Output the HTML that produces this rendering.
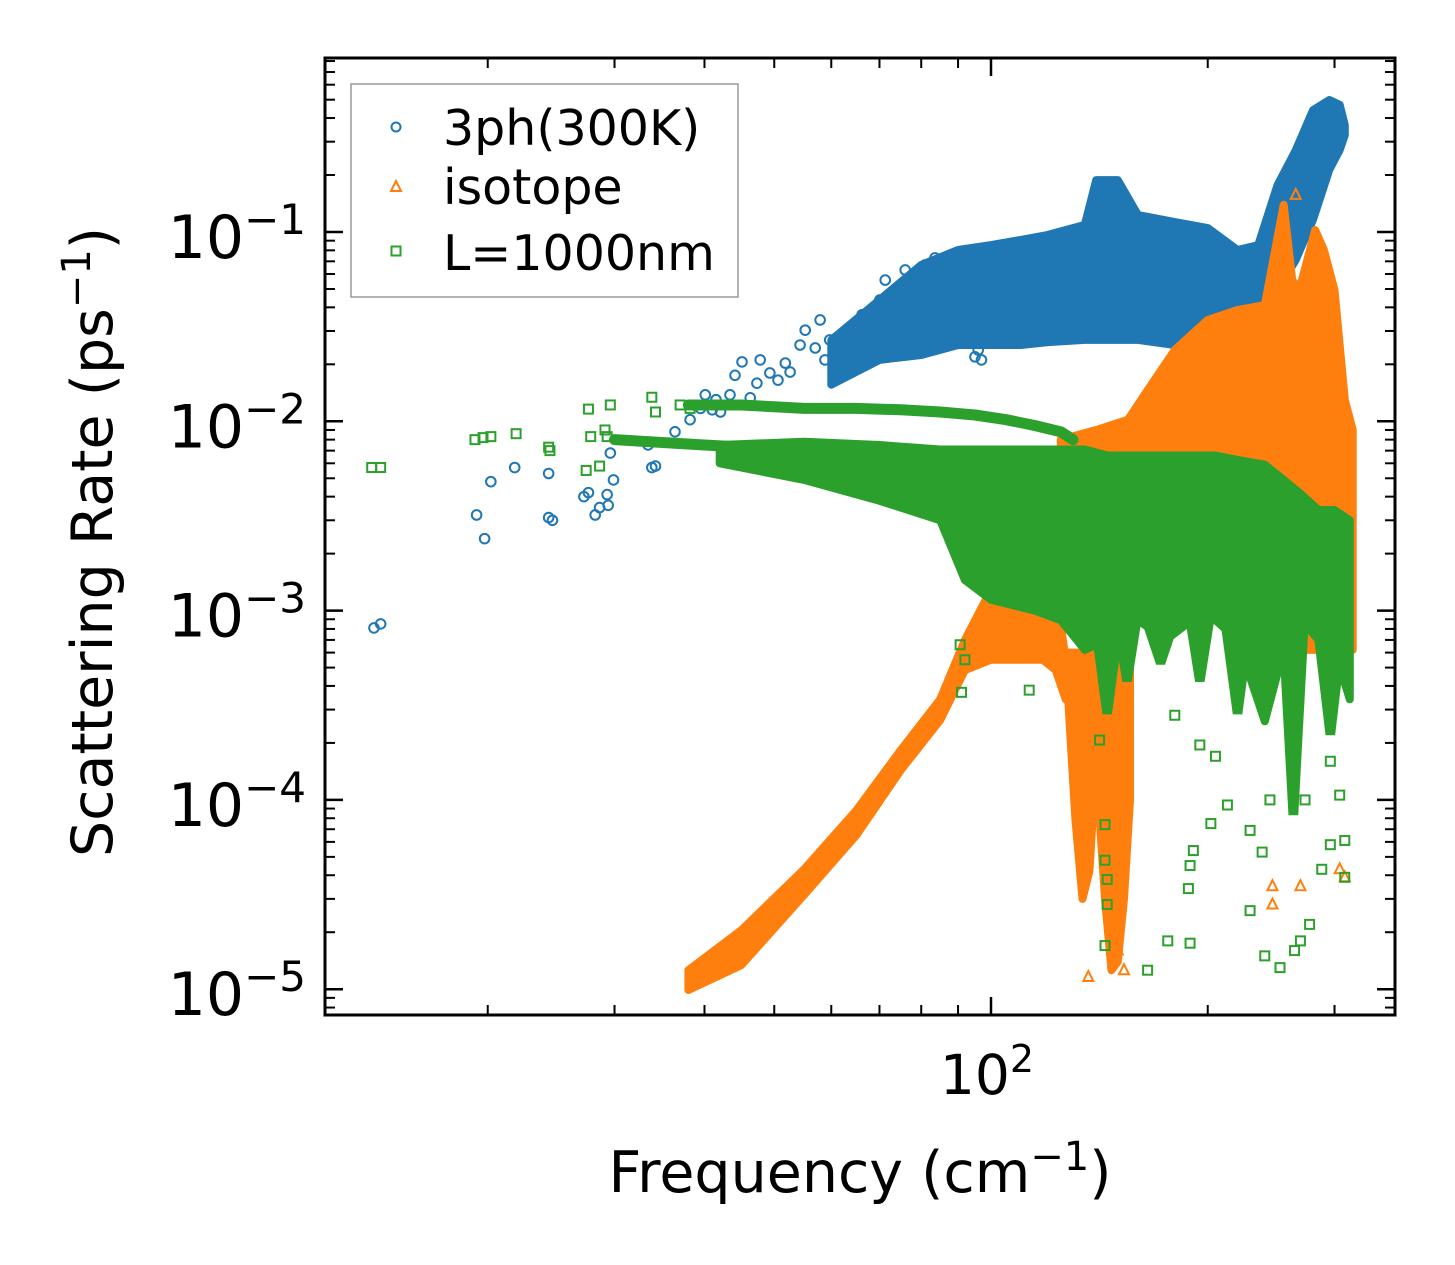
<!DOCTYPE html>
<html><head><meta charset="utf-8">
<style>
html,body{margin:0;padding:0;background:#fff;}
svg{display:block;font-family:"DejaVu Sans","Liberation Sans",sans-serif;}
</style></head>
<body>
<svg id="chart" width="1455" height="1265" viewBox="0 0 1455 1265" xmlns="http://www.w3.org/2000/svg">
<rect width="1455" height="1265" fill="#fff"/>
<g id="marks"></g>
<g id="axes"></g>
<text x="860" y="1192" font-size="57" text-anchor="middle">Frequency (cm<tspan dy="-22" font-size="40">−1</tspan><tspan dy="22">)</tspan></text>
<text transform="translate(112,542) rotate(-90)" font-size="57" text-anchor="middle">Scattering Rate (ps<tspan dy="-22" font-size="40">−1</tspan><tspan dy="22">)</tspan></text>
<g>
<rect x="351" y="84" width="387" height="213" fill="#fff" stroke="#999" stroke-width="1.5"/>
<circle cx="396" cy="127" r="4.5" fill="none" stroke="#1f77b4" stroke-width="2"/>
<text x="443" y="145" font-size="49">3ph(300K)</text>
<polygon points="396,181 391,191 401,191" fill="none" stroke="#ff7f0e" stroke-width="2"/>
<text x="443" y="204" font-size="49">isotope</text>
<rect x="391.5" y="246.5" width="9" height="9" fill="none" stroke="#2ca02c" stroke-width="2"/>
<text x="443" y="270" font-size="49">L=1000nm</text>
</g>
</svg>
<script>
// ---- data (frequency in cm^-1, rate in ps^-1) ----
const blueBandF  = [60,70,80,90,100,110,120,135,140,150,160,180,200,220,235,250,265,280,295,305,310];
const blueBandHi = [0.0269,0.0438,0.067,0.0803,0.0853,0.0908,0.0965,0.109,0.188,0.188,0.123,0.113,0.105,0.0803,0.0853,0.177,0.27,0.44,0.498,0.469,0.367];
const blueBandLo = [0.0156,0.0211,0.0224,0.0253,0.0253,0.0253,0.0262,0.0269,0.0269,0.0269,0.0269,0.0253,0.0253,0.0303,0.0343,0.0494,0.0711,0.116,0.213,0.271,0.325];
const bluePtsF = [13.9,14.2,19.3,19.8,20.2,21.8,24.3,24.3,24.6,27.2,27.6,28.2,28.6,29.4,29.3,29.6,29.9,33.4,34.2,33.8,36.4,38.2,39.5,40.1,41,41.5,42.1,43.4,44.1,45.1,46.3,47.3,47.8,49.3,50.6,51.8,52.6,54.3,55.2,57,57.9,58.8,59.7,61.7,63.7,64.7,66.2,67.9,70.1,71.3,73.6,76,78.4,81,83.6,95,96,97];
const bluePtsV = [8.1e-4,8.5e-4,3.2e-3,2.4e-3,4.8e-3,5.7e-3,5.3e-3,3.1e-3,3.0e-3,4.0e-3,4.2e-3,3.2e-3,3.5e-3,3.6e-3,4.1e-3,6.8e-3,4.9e-3,7.5e-3,5.8e-3,5.7e-3,8.8e-3,0.0102,0.0117,0.0138,0.0115,0.013,0.0112,0.0138,0.0175,0.0206,0.0133,0.0159,0.0211,0.018,0.0165,0.0203,0.0182,0.0253,0.0303,0.0244,0.0343,0.0211,0.0269,0.0238,0.0303,0.0269,0.0365,0.0378,0.0438,0.0557,0.0448,0.063,0.0494,0.067,0.073,0.0219,0.0238,0.0211];

const orangeAF  = [38,45,55,65,75,85,92,100,110,118,123,127];
const orangeAHi = [1.26e-5,2.05e-5,4.3e-5,8.8e-5,1.84e-4,3.4e-4,7.0e-4,1.29e-3,1.74e-3,1.64e-3,1.29e-3,5.5e-4];
const orangeALo = [9.9e-6,1.34e-5,3.15e-5,6.5e-5,1.44e-4,2.64e-4,4.85e-4,5.5e-4,5.5e-4,5.5e-4,4.85e-4,3.4e-4];
const orangeSpikeAF  = [128,131,134,137,140];
const orangeSpikeAHi = [6e-4,6e-4,6e-4,6e-4,6e-4];
const orangeSpikeALo = [3.4e-4,7.9e-5,3.0e-5,4.2e-5,1.6e-4];
const orangeSpikeBF  = [141,144,147,150,153,156];
const orangeSpikeBHi = [1e-3,1e-3,1e-3,1e-3,1e-3,1e-3];
const orangeSpikeBLo = [1e-4,3.0e-5,1.26e-5,1.4e-5,3.0e-5,1e-4];
const orangeCF  = [125,140,155,165,180,200,220,240,255,262,268,275,282,290,300,310,318];
const orangeCHi = [8.0e-3,9.0e-3,0.0102,0.0146,0.0238,0.0343,0.0387,0.0411,0.139,0.0557,0.0494,0.0711,0.1025,0.0803,0.0494,0.013,9.0e-3];
const orangeCLo = [3.0e-3,3.0e-3,3.0e-3,3.0e-3,3.0e-3,3.0e-3,3.0e-3,1.14e-3,6.2e-4,6.2e-4,6.2e-4,6.2e-4,6.2e-4,6.2e-4,6.2e-4,6.2e-4,6.2e-4];
const orangePtsF = [265,246,246,269,305,310,136.5,153,150,269];
const orangePtsV = [0.157,3.5e-5,2.8e-5,3.5e-5,4.3e-5,3.9e-5,1.16e-5,1.26e-5,1.6e-5,4.3e-3];

const greenArc1F = [38,45,55,65,75,85,95,105,115,125,130];
const greenArc1V = [0.0122,0.0122,0.0117,0.0117,0.0115,0.0112,0.0108,0.0102,0.0095,0.0088,0.008];
const greenArc2F = [30,40,55,70,85,100];
const greenArc2V = [0.008,0.0075,0.007,0.0065,0.006,0.0057];
const greenBandF  = [42,55,70,85,92,100,115,125,135,145,160,175,190,205,220,240,255,270,285,300,315];
const greenBandHi = [7.5e-3,7.8e-3,7.5e-3,7.1e-3,7.1e-3,7.1e-3,7.1e-3,7.1e-3,7.1e-3,6.6e-3,6.6e-3,6.6e-3,6.6e-3,6.6e-3,6.25e-3,5.9e-3,4.9e-3,4.1e-3,3.4e-3,3.4e-3,3.0e-3];
const greenBandLo = [6.0e-3,4.9e-3,3.8e-3,3.0e-3,1.45e-3,1.14e-3,1.0e-3,8.9e-4,6.2e-4,7.0e-4,8.9e-4,7.0e-4,8.9e-4,8.9e-4,7.0e-4,2.6e-4,6.2e-4,8.9e-4,7.0e-4,6.2e-4,3.4e-4];
const greenSpikeF = [145,154.5,172,195,220,263,296];
const greenSpikeV = [2.9e-4,4.3e-4,5.3e-4,4.3e-4,2.9e-4,8.5e-5,2.25e-4];
const greenPtsF = [13.8,14.2,19.2,19.7,20.2,21.9,24.3,24.4,27.4,27.6,28.6,29.1,29.6,33.8,34.2,37,38.2,29.3,27.8,
  90.6,92,91,113,141.5,144,144,145,145,144,165,176,189,188,189,191,202,213,229,244,238,229,240,252,264,269,277,288,296,310,310,273,296,305,195,205,180];
const greenPtsV = [5.7e-3,5.7e-3,8.0e-3,8.2e-3,8.3e-3,8.6e-3,7.3e-3,7.0e-3,5.5e-3,0.0116,5.8e-3,9.0e-3,0.0122,0.0134,0.0112,0.0122,0.0117,8.3e-3,8.3e-3,
  6.6e-4,5.5e-4,3.7e-4,3.8e-4,2.07e-4,7.4e-5,4.8e-5,3.8e-5,2.8e-5,1.7e-5,1.26e-5,1.8e-5,1.75e-5,3.4e-5,4.5e-5,5.4e-5,7.5e-5,9.4e-5,6.9e-5,1e-4,5.3e-5,2.6e-5,1.5e-5,1.3e-5,1.6e-5,1.8e-5,2.2e-5,4.3e-5,5.8e-5,6.1e-5,3.9e-5,1e-4,1.6e-4,1.06e-4,1.95e-4,1.7e-4,2.8e-4];

const xMinorTicks = [20,30,40,50,60,70,80,90,200,300];
const xMajorTicks = [100];
const yMajorExp = [-5,-4,-3,-2,-1];

// ---- scales ----
const L=325,R=1395,T=58,B=1015;
function X(f){return 991+720*Math.log10(f/100);}
function Y(v){return 232-189.3*(Math.log10(v)+1);}
const NS="http://www.w3.org/2000/svg";
const marks=document.getElementById('marks');
const axes=document.getElementById('axes');
function mk(tag,attrs,parent){const e=document.createElementNS(NS,tag);for(const k in attrs)e.setAttribute(k,attrs[k]);parent.appendChild(e);return e;}

function band(F,Hi,Lo,color,name){
  let d='M'+F.map((f,i)=>X(f).toFixed(1)+','+Y(Hi[i]).toFixed(1)).join('L');
  for(let i=F.length-1;i>=0;i--) d+='L'+X(F[i]).toFixed(1)+','+Y(Lo[i]).toFixed(1);
  const p=mk('path',{d:d+'Z',fill:color,stroke:color,'stroke-width':8,'stroke-linejoin':'round'},marks);
  
  
}
function arc(F,V,color,name){
  const p=mk('polyline',{points:F.map((f,i)=>X(f).toFixed(1)+','+Y(V[i]).toFixed(1)).join(' '),fill:'none',stroke:color,'stroke-width':11,'stroke-linejoin':'round','stroke-linecap':'round'},marks);
  
  
}
function circ(f,v){
  const c=mk('circle',{cx:X(f),cy:Y(v),r:4.8,fill:'none',stroke:'#1f77b4','stroke-width':2},marks);
  
  
}
function tri(f,v){
  const x=X(f),y=Y(v);
  const t=mk('polygon',{points:`${x},${y-6} ${x-5},${y+4} ${x+5},${y+4}`,fill:'none',stroke:'#ff7f0e','stroke-width':2},marks);
  
  
}
function sq(f,v){
  const s=mk('rect',{x:X(f)-4.5,y:Y(v)-4.5,width:9,height:9,fill:'none',stroke:'#2ca02c','stroke-width':2},marks);
  
  
}

// blue
band(blueBandF,blueBandHi,blueBandLo,'#1f77b4','band-3ph');
bluePtsF.forEach((f,i)=>circ(f,bluePtsV[i]));
// orange
band(orangeAF,orangeAHi,orangeALo,'#ff7f0e','band-isotope-low');
band(orangeSpikeAF,orangeSpikeAHi,orangeSpikeALo,'#ff7f0e','band-isotope-spike-a');
band(orangeSpikeBF,orangeSpikeBHi,orangeSpikeBLo,'#ff7f0e','band-isotope-spike-b');
band(orangeCF,orangeCHi,orangeCLo,'#ff7f0e','band-isotope-high');
orangePtsF.forEach((f,i)=>tri(f,orangePtsV[i]));
// green
arc(greenArc1F,greenArc1V,'#2ca02c','arc-l1000nm-upper');
arc(greenArc2F,greenArc2V,'#2ca02c','arc-l1000nm-lower');
band(greenBandF,greenBandHi,greenBandLo,'#2ca02c','band-l1000nm');
greenSpikeF.forEach((f,i)=>{
  const x=X(f);
  const top=Y(greenBandLo[greenBandF.findIndex(g=>g>=f)]||1e-3)-10;
  const p=mk('polygon',{points:`${x-14},${top} ${x+14},${top} ${x+3},${Y(greenSpikeV[i])} ${x-3},${Y(greenSpikeV[i])}`,fill:'#2ca02c',stroke:'#2ca02c','stroke-width':4},marks);
  
  
});
greenPtsF.forEach((f,i)=>sq(f,greenPtsV[i]));

// ---- axes ----
const frame=mk('rect',{x:L,y:T,width:R-L,height:B-T,fill:'none',stroke:'#000','stroke-width':3},axes);


xMinorTicks.forEach(f=>{const x=X(f);
  mk('line',{x1:x,y1:B,x2:x,y2:B-10,stroke:'#000','stroke-width':2},axes);
  mk('line',{x1:x,y1:T,x2:x,y2:T+10,stroke:'#000','stroke-width':2},axes);});
xMajorTicks.forEach(f=>{const x=X(f);
  mk('line',{x1:x,y1:B,x2:x,y2:B-18,stroke:'#000','stroke-width':2.5},axes);
  mk('line',{x1:x,y1:T,x2:x,y2:T+18,stroke:'#000','stroke-width':2.5},axes);
  const t=mk('text',{x:x-4,y:1094,'font-size':55,'text-anchor':'middle'},axes);
  
  
  t.innerHTML='10<tspan dy="-22" font-size="38">2</tspan>';});
for(let e=-6;e<=0;e++){for(let m=2;m<=9;m++){const v=m*Math.pow(10,e);const y=Y(v);
  if(y<T+2||y>B-2)continue;
  mk('line',{x1:L,y1:y,x2:L+10,y2:y,stroke:'#000','stroke-width':2},axes);
  mk('line',{x1:R,y1:y,x2:R-10,y2:y,stroke:'#000','stroke-width':2},axes);}}
yMajorExp.forEach(e=>{const y=Y(Math.pow(10,e));
  mk('line',{x1:L,y1:y,x2:L+18,y2:y,stroke:'#000','stroke-width':2.5},axes);
  mk('line',{x1:R,y1:y,x2:R-18,y2:y,stroke:'#000','stroke-width':2.5},axes);
  const t=mk('text',{x:306,y:y+26,'font-size':60,'text-anchor':'end'},axes);
  
  
  t.innerHTML='10<tspan dy="-24" font-size="42">−'+(-e)+'</tspan>';});
</script>
</body></html>
